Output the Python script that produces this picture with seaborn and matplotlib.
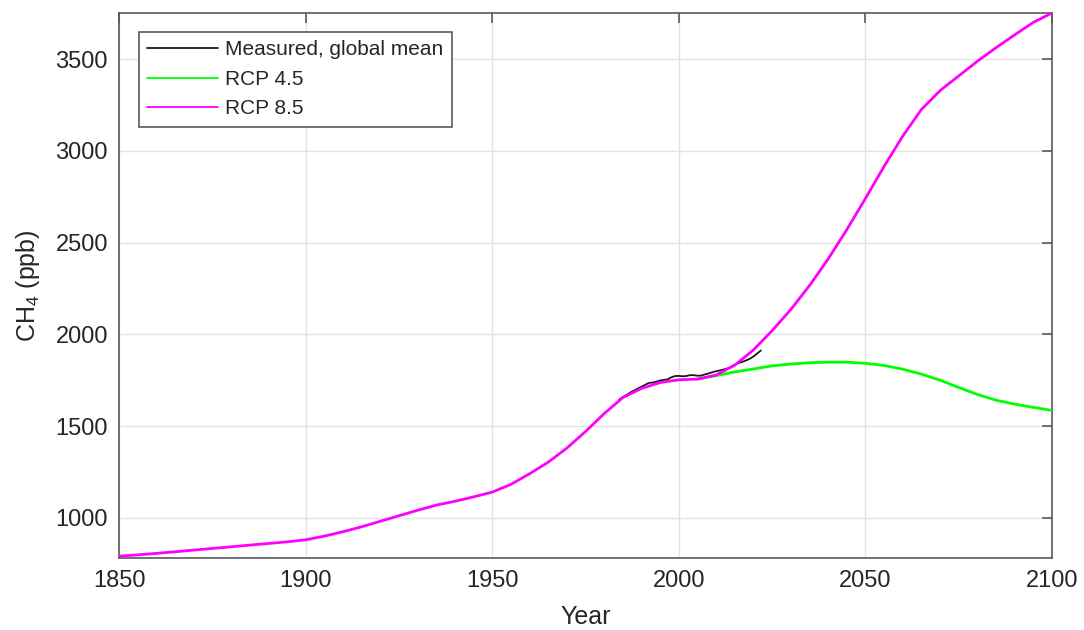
import numpy as np
import pandas as pd
import matplotlib
matplotlib.use("Agg")
import matplotlib.pyplot as plt
import seaborn as sns

# Historical + RCP 8.5 methane concentration (ppb), 5-year steps
rcp85_years = [1850, 1855, 1860, 1865, 1870, 1875, 1880, 1885, 1890, 1895,
               1900, 1905, 1910, 1915, 1920, 1925, 1930, 1935, 1940, 1945,
               1950, 1955, 1960, 1965, 1970, 1975, 1980, 1985, 1990, 1995,
               2000, 2005, 2010, 2015, 2020, 2025, 2030, 2035, 2040, 2045,
               2050, 2055, 2060, 2065, 2070, 2075, 2080, 2085, 2090, 2095,
               2100]
rcp85_ch4 = [791, 798, 806, 815, 824, 833, 842, 851, 860, 869,
             880, 900, 924, 951, 981, 1011, 1041, 1069, 1090, 1114,
             1140, 1182, 1240, 1303, 1380, 1470, 1568, 1655, 1705, 1737,
             1752, 1756, 1778, 1832, 1915, 2020, 2135, 2265, 2410, 2570,
             2740, 2915, 3080, 3225, 3328, 3408, 3488, 3562, 3632, 3700,
             3751]

# RCP 4.5 methane concentration (ppb)
rcp45_years = [2005, 2010, 2015, 2020, 2025, 2030, 2035, 2040, 2045, 2050,
               2055, 2060, 2065, 2070, 2075, 2080, 2085, 2090, 2095, 2100]
rcp45_ch4 = [1756, 1775, 1795, 1811, 1828, 1838, 1845, 1848, 1848, 1842,
             1830, 1810, 1783, 1750, 1710, 1672, 1641, 1619, 1602, 1585]

# Measured global-mean methane (ppb), annual means
meas_years = list(range(1984, 2023))
meas_ch4 = [1644.8, 1657.3, 1670.1, 1682.7, 1693.3, 1704.5, 1714.5, 1724.8,
            1735.5, 1736.6, 1742.1, 1748.6, 1751.4, 1754.6, 1765.6, 1772.4,
            1773.3, 1771.1, 1772.7, 1777.3, 1777.0, 1774.2, 1774.9, 1781.5,
            1787.0, 1793.1, 1798.9, 1803.1, 1808.1, 1813.5, 1822.6, 1834.1,
            1843.1, 1849.7, 1857.3, 1866.6, 1879.1, 1895.3, 1911.9]

x_ticks = [1850, 1900, 1950, 2000, 2050, 2100]
y_ticks = [1000, 1500, 2000, 2500, 3000, 3500]

sns.set_style("white")
plt.rcParams["font.family"] = ["Liberation Sans", "DejaVu Sans"]
plt.rcParams["mathtext.fontset"] = "custom"
plt.rcParams["mathtext.rm"] = "Liberation Sans"
plt.rcParams["mathtext.it"] = "Liberation Sans"

fig = plt.figure(figsize=(10.84, 6.30), dpi=100)
ax = fig.add_axes([0.1098, 0.1143, 0.8607, 0.8651])

meas = pd.DataFrame({"year": meas_years, "ch4": meas_ch4})
r45 = pd.DataFrame({"year": rcp45_years, "ch4": rcp45_ch4})
r85 = pd.DataFrame({"year": rcp85_years, "ch4": rcp85_ch4})

sns.lineplot(data=meas, x="year", y="ch4", ax=ax, color="#1a1a1a",
             linewidth=1.3, label="Measured, global mean", zorder=3)
sns.lineplot(data=r45, x="year", y="ch4", ax=ax, color="#00ff00",
             linewidth=2.0, label="RCP 4.5", zorder=3)
sns.lineplot(data=r85, x="year", y="ch4", ax=ax, color="#ff00ff",
             linewidth=2.0, label="RCP 8.5", zorder=3)

ax.set_xlim(1850, 2100)
ax.set_ylim(781, 3751)
ax.set_xticks(x_ticks)
ax.set_yticks(y_ticks)
ax.grid(True, color="#e3e3e3", linewidth=1.0, zorder=0)
ax.set_axisbelow(True)

for s in ax.spines.values():
    s.set_color("#5a5a5a")
    s.set_linewidth(1.2)

ax.tick_params(axis="both", direction="in", length=7, width=1.2,
               colors="#5a5a5a", labelcolor="#262626", labelsize=17,
               top=True, right=True)
ax.tick_params(axis="x", pad=9)
ax.tick_params(axis="y", pad=8)

ax.set_xlabel("Year", fontsize=18, color="#262626", labelpad=9)
ax.set_ylabel("CH$_4$ (ppb)", fontsize=18, color="#262626", labelpad=10)

leg = ax.legend(loc="upper left", bbox_to_anchor=(0.0214, 0.965),
                borderaxespad=0, fontsize=15, frameon=True, fancybox=False,
                framealpha=1, edgecolor="#5a5a5a", handlelength=3.4,
                handletextpad=0.35, labelspacing=0.5, borderpad=0.4)
leg.get_frame().set_linewidth(1.2)
for h in leg.get_lines():
    h.set_linewidth(1.3)

fig.savefig("out.png", dpi=100, facecolor="white")
